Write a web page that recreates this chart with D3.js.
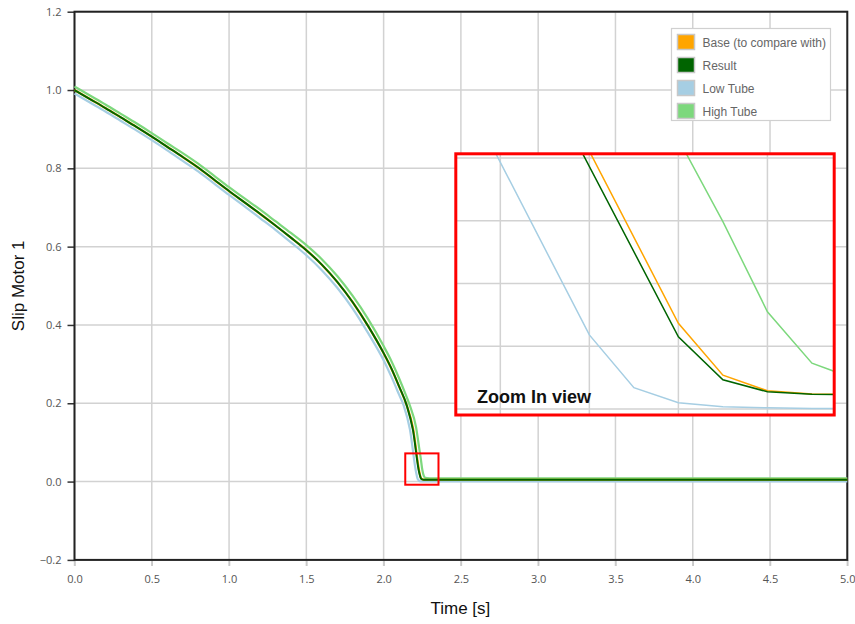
<!DOCTYPE html>
<html>
<head>
<meta charset="utf-8">
<script src="https://cdn.jsdelivr.net/npm/d3@7"></script>
<style>
  body { margin: 0; background: #fff; }
  svg { display: block; }
</style>
</head>
<body>
<div id="chart"></div>
<script>
// slip of motor 1 over time, four series
const resultT = [0,0.1,0.2,0.3,0.4,0.5,0.6,0.7,0.8,0.9,1.0,1.1,1.2,1.3,1.4,1.5,1.6,1.7,1.8,1.9,2.0,2.05,2.1,2.15,2.19,2.23,2.24,2.25,2.26,2.27,5.0]
const resultV = [1.0,0.977,0.954,0.930,0.906,0.881,0.855,0.829,0.802,0.772,0.742,0.713,0.684,0.654,0.623,0.591,0.554,0.510,0.458,0.397,0.328,0.289,0.243,0.194,0.1315,0.023,0.0093,0.0055,0.0047,0.0045,0.0045]

const baseT = [0,0.1,0.2,0.3,0.4,0.5,0.6,0.7,0.8,0.9,1.0,1.1,1.2,1.3,1.4,1.5,1.6,1.7,1.8,1.9,2.0,2.05,2.1,2.15,2.19,2.23,2.24,2.25,2.26,2.27,5.0]
const baseV = [1.0,0.977,0.954,0.930,0.906,0.881,0.855,0.829,0.802,0.772,0.742,0.713,0.684,0.654,0.623,0.591,0.554,0.510,0.458,0.397,0.328,0.289,0.243,0.194,0.137,0.0273,0.0108,0.0058,0.0048,0.0047,0.0047]

const lowT = [0,0.1,0.2,0.3,0.4,0.5,0.6,0.7,0.8,0.9,1.0,1.1,1.2,1.3,1.4,1.5,1.6,1.7,1.8,1.9,2.0,2.05,2.1,2.13,2.17,2.21,2.22,2.23,2.24,2.25,2.26,5.0]
const lowV = [0.991,0.968,0.945,0.921,0.897,0.872,0.846,0.819,0.792,0.762,0.732,0.703,0.673,0.643,0.611,0.578,0.540,0.495,0.442,0.379,0.310,0.268,0.222,0.194,0.1336,0.0236,0.0068,0.0020,0.0007,0.0004,0.0002,0.0002]

const highT = [0,0.1,0.2,0.3,0.4,0.5,0.6,0.7,0.8,0.9,1.0,1.1,1.2,1.3,1.4,1.5,1.6,1.7,1.8,1.9,2.0,2.05,2.1,2.15,2.17,2.21,2.23,2.24,2.25,2.26,2.27,2.28,2.3,5.0]
const highV = [1.009,0.986,0.963,0.939,0.915,0.890,0.864,0.839,0.812,0.782,0.752,0.723,0.695,0.665,0.635,0.604,0.568,0.525,0.474,0.415,0.346,0.308,0.264,0.215,0.194,0.1386,0.086,0.0597,0.031,0.0146,0.0094,0.0088,0.0085,0.0085]

const seriesNames = ["Base (to compare with)", "Result", "Low Tube", "High Tube"]
const seriesColors = ["#ffa500", "#006400", "#a6cee3", "#7dd87d"]

const xTicks = [0,0.5,1.0,1.5,2.0,2.5,3.0,3.5,4.0,4.5,5.0]
const yTicks = [-0.2,0,0.2,0.4,0.6,0.8,1.0,1.2]

// region shown in the zoom view
const zoomBoxT = [2.14, 2.355]
const zoomBoxV = [-0.008, 0.072]
const insetT = [2.18, 2.265]
const insetV = [-0.0019, 0.0813]
const insetTicksT = [2.19, 2.21, 2.23, 2.25]
const insetTicksV = [0, 0.02, 0.04, 0.06, 0.08]

const width = 855
const height = 624
const margin = {left: 74.5, top: 11.7, right: 7.7, bottom: 64.1}

const pairs = (ts, vs) => ts.map((t, i) => [t, vs[i]])
// drawing order: tubes first, result on top
const series = [
    {name: "Low Tube", color: seriesColors[2], pts: pairs(lowT, lowV)},
    {name: "High Tube", color: seriesColors[3], pts: pairs(highT, highV)},
    {name: "Base", color: seriesColors[0], pts: pairs(baseT, baseV)},
    {name: "Result", color: seriesColors[1], pts: pairs(resultT, resultV)}
]

const svg = d3.select('#chart')
    .append('svg')
    .attr('width', width)
    .attr('height', height)

const x = d3.scaleLinear()
    .domain([0, 5])
    .range([margin.left, width - margin.right])

const y = d3.scaleLinear()
    .domain([-0.2, 1.2])
    .range([height - margin.bottom, margin.top])

// grid
svg.append('g')
    .selectAll('line')
    .data(xTicks)
    .join('line')
    .attr('x1', d => x(d)).attr('x2', d => x(d))
    .attr('y1', y(1.2)).attr('y2', y(-0.2) + 6)
    .attr('stroke', '#d2d2d2')
    .attr('stroke-width', 1.5)

svg.append('g')
    .selectAll('line')
    .data(yTicks)
    .join('line')
    .attr('x1', x(0)).attr('x2', x(5))
    .attr('y1', d => y(d)).attr('y2', d => y(d))
    .attr('stroke', '#d2d2d2')
    .attr('stroke-width', 1.5)

// axes
const xAxis = svg.append('g')
    .attr('transform', `translate(0,${y(-0.2)})`)
    .call(d3.axisBottom(x).tickValues(xTicks).tickFormat(d3.format('.1f')).tickSize(6).tickPadding(9))
xAxis.select('.domain').remove()
xAxis.selectAll('line').attr('stroke', '#c8c8c8').attr('stroke-width', 1.5)

const yAxis = svg.append('g')
    .attr('transform', `translate(${x(0)},0)`)
    .call(d3.axisLeft(y).tickValues(yTicks).tickFormat(d3.format('.1f')).tickSize(7).tickPadding(6))
yAxis.select('.domain').remove()
yAxis.selectAll('line').attr('stroke', '#333').attr('stroke-width', 1.5)

svg.selectAll('.tick text')
    .attr('fill', '#555')
    .style('font-family', '"Open Sans", sans-serif')
    .style('font-size', '11px')

// frame
svg.append('rect')
    .attr('x', x(0)).attr('y', y(1.2))
    .attr('width', x(5) - x(0)).attr('height', y(-0.2) - y(1.2))
    .attr('fill', 'none')
    .attr('stroke', '#222')
    .attr('stroke-width', 2)

const line = d3.line()
    .x(d => x(d[0]))
    .y(d => y(d[1]))
    .curve(d3.curveMonotoneX)

svg.append('g')
    .selectAll('path')
    .data(series)
    .join('path')
    .attr('d', d => line(d.pts))
    .attr('fill', 'none')
    .attr('stroke', d => d.color)
    .attr('stroke-width', d => d.name == "Result" ? 2 : 2.2)
    .attr('stroke-linejoin', 'round')

// small marker of the zoomed region
svg.append('rect')
    .attr('x', x(zoomBoxT[0])).attr('y', y(zoomBoxV[1]))
    .attr('width', x(zoomBoxT[1]) - x(zoomBoxT[0]))
    .attr('height', y(zoomBoxV[0]) - y(zoomBoxV[1]))
    .attr('fill', 'none')
    .attr('stroke', '#ff0000')
    .attr('stroke-width', 2)

// axis titles
svg.append('text')
    .attr('x', (x(0) + x(5)) / 2 - 0.5)
    .attr('y', 614)
    .attr('text-anchor', 'middle')
    .style('font-family', '"Liberation Sans", Arial, sans-serif')
    .style('font-size', '17px')
    .attr('fill', '#111')
    .text('Time [s]')

svg.append('text')
    .attr('transform', `translate(24,${(y(-0.2) + y(1.2)) / 2}) rotate(-90)`)
    .attr('text-anchor', 'middle')
    .style('font-family', '"Liberation Sans", Arial, sans-serif')
    .style('font-size', '17px')
    .attr('fill', '#111')
    .text('Slip Motor 1')

// legend
const legend = svg.append('g')
    .attr('transform', 'translate(671.5,28.5)')

legend.append('rect')
    .attr('width', 159)
    .attr('height', 92)
    .attr('fill', '#fff')
    .attr('stroke', '#d0d0d0')
    .attr('stroke-width', 1.2)

const items = legend.selectAll('g.item')
    .data(seriesNames)
    .join('g')
    .attr('class', 'item')
    .attr('transform', (d, i) => `translate(6,${6 + i * 23})`)

items.append('rect')
    .attr('width', 17)
    .attr('height', 15)
    .attr('fill', (d, i) => seriesColors[i])
    .attr('stroke', '#c8c8c8')
    .attr('stroke-width', 1.5)

items.append('text')
    .attr('x', 25)
    .attr('y', 12)
    .style('font-family', '"Liberation Sans", Arial, sans-serif')
    .style('font-size', '12px')
    .attr('fill', '#666')
    .text(d => d)

// zoom in view
const box = {x0: 455.8, x1: 834.2, y0: 153.8, y1: 415}

const ix = d3.scaleLinear()
    .domain(insetT)
    .range([box.x0, box.x1])

const iy = d3.scaleLinear()
    .domain(insetV)
    .range([box.y1, box.y0])

const inset = svg.append('g')

inset.append('clipPath')
    .attr('id', 'insetClip')
    .append('rect')
    .attr('x', box.x0).attr('y', box.y0)
    .attr('width', box.x1 - box.x0).attr('height', box.y1 - box.y0)

inset.append('rect')
    .attr('x', box.x0).attr('y', box.y0)
    .attr('width', box.x1 - box.x0).attr('height', box.y1 - box.y0)
    .attr('fill', '#fff')

inset.append('g')
    .selectAll('line')
    .data(insetTicksT)
    .join('line')
    .attr('x1', d => ix(d)).attr('x2', d => ix(d))
    .attr('y1', box.y0).attr('y2', box.y1)
    .attr('stroke', '#d2d2d2')
    .attr('stroke-width', 1.5)

inset.append('g')
    .selectAll('line')
    .data(insetTicksV)
    .join('line')
    .attr('x1', box.x0).attr('x2', box.x1)
    .attr('y1', d => iy(d)).attr('y2', d => iy(d))
    .attr('stroke', '#d2d2d2')
    .attr('stroke-width', 1.5)

const insetLine = d3.line()
    .x(d => ix(d[0]))
    .y(d => iy(d[1]))

inset.append('g')
    .attr('clip-path', 'url(#insetClip)')
    .selectAll('path')
    .data(series)
    .join('path')
    .attr('d', d => insetLine(d.pts))
    .attr('fill', 'none')
    .attr('stroke', d => d.color)
    .attr('stroke-width', 1.5)

inset.append('text')
    .attr('x', 477)
    .attr('y', 403)
    .style('font-family', '"Liberation Sans", Arial, sans-serif')
    .style('font-size', '18px')
    .style('font-weight', 'bold')
    .attr('fill', '#111')
    .text('Zoom In view')

inset.append('rect')
    .attr('x', box.x0).attr('y', box.y0)
    .attr('width', box.x1 - box.x0).attr('height', box.y1 - box.y0)
    .attr('fill', 'none')
    .attr('stroke', '#ff0000')
    .attr('stroke-width', 3)
</script>
</body>
</html>
